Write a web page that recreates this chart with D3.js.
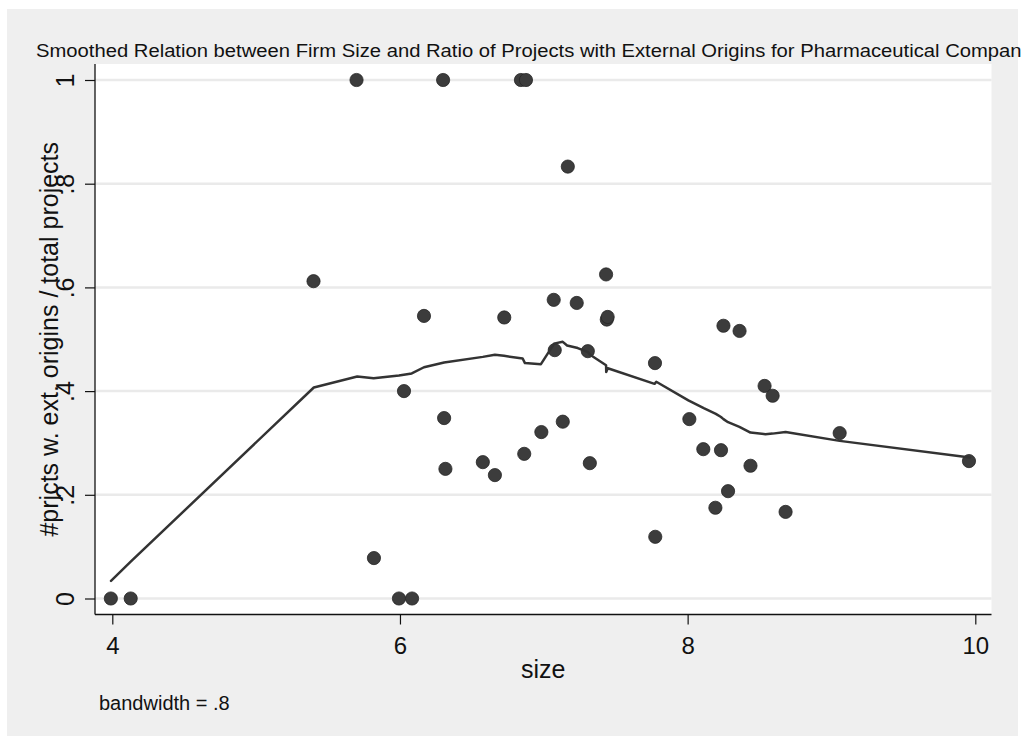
<!DOCTYPE html>
<html>
<head>
<meta charset="utf-8">
<script src="https://cdn.jsdelivr.net/npm/d3@7"></script>
<style>
  html, body { margin: 0; padding: 0; background: #ffffff; }
  svg { display: block; }
  text { font-family: "Liberation Sans", Arial, Helvetica, sans-serif; fill: #111; }
</style>
</head>
<body>
<svg id="chart" width="1022" height="736"></svg>
<script>
// Firm size (log scale) and share of projects with external origins, one entry per firm
const firmSize = [3.99, 4.128, 5.399, 5.698, 5.819, 5.993, 6.084, 6.028, 6.167, 6.300,
  6.307, 6.316, 6.576, 6.660, 6.725, 6.841, 6.876, 6.864, 6.983, 7.069,
  7.076, 7.132, 7.167, 7.229, 7.306, 7.320, 7.433, 7.438, 7.444, 7.773,
  7.775, 8.012, 8.109, 8.193, 8.232, 8.249, 8.281, 8.361, 8.437, 8.535,
  8.591, 8.681, 9.057, 9.956];
const extRatio = [0, 0, 0.612, 1, 0.078, 0, 0, 0.400, 0.545, 1,
  0.348, 0.250, 0.263, 0.238, 0.542, 1, 1, 0.279, 0.321, 0.576,
  0.479, 0.341, 0.833, 0.570, 0.477, 0.261, 0.625, 0.538, 0.543, 0.454,
  0.119, 0.346, 0.288, 0.175, 0.286, 0.526, 0.207, 0.516, 0.256, 0.410,
  0.391, 0.167, 0.319, 0.265];

// Lowess smooth (bandwidth .8), evaluated at the firm sizes
const smoothX = [3.991, 4.128, 5.401, 5.703, 5.817, 5.993, 6.082, 6.167, 6.307, 6.576,
  6.660, 6.723, 6.853, 6.869, 6.980, 7.073, 7.078, 7.132, 7.162, 7.236,
  7.308, 7.322, 7.433, 7.434, 7.445, 7.770, 7.782, 8.005, 8.112, 8.196,
  8.232, 8.249, 8.281, 8.360, 8.437, 8.541, 8.590, 8.681, 9.057, 9.963];
const smoothY = [0.034, 0.071, 0.407, 0.428, 0.425, 0.430, 0.434, 0.446, 0.455, 0.466,
  0.470, 0.468, 0.463, 0.454, 0.452, 0.492, 0.492, 0.495, 0.488, 0.483,
  0.475, 0.470, 0.450, 0.437, 0.444, 0.414, 0.418, 0.382, 0.367, 0.356,
  0.350, 0.346, 0.340, 0.331, 0.320, 0.317, 0.318, 0.321, 0.304, 0.272];

const xTicks = [4, 6, 8, 10];
const xTickLabels = ["4", "6", "8", "10"];
const yTicks = [0, 0.2, 0.4, 0.6, 0.8, 1];
const yTickLabels = ["0", ".2", ".4", ".6", ".8", "1"];

const titleText = "Smoothed Relation between Firm Size and Ratio of Projects with External Origins for Pharmaceutical Companies";
const xTitle = "size";
const yTitle = "#prjcts w. ext. origins / total projects";
const noteText = "bandwidth = .8";

const svg = d3.select("#chart");

// Graph region and plot region
const plot = { left: 95, right: 991.5, top: 64, bottom: 614.5 };

svg.append("rect")
  .attr("x", 7).attr("y", 9).attr("width", 1011).attr("height", 727)
  .attr("fill", "#efefef");

svg.append("rect")
  .attr("x", plot.left).attr("y", plot.top)
  .attr("width", plot.right - plot.left).attr("height", plot.bottom - plot.top)
  .attr("fill", "#ffffff");

const x = d3.scaleLinear().domain([4, 10]).range([112.3, 975.3]);
const y = d3.scaleLinear().domain([0, 1]).range([598.5, 80]);

// Horizontal grid lines
svg.append("g").selectAll("line")
  .data(yTicks)
  .join("line")
  .attr("x1", plot.left).attr("x2", plot.right)
  .attr("y1", d => y(d)).attr("y2", d => y(d))
  .attr("stroke", "#eaeaea").attr("stroke-width", 2.5);

// Scatter points
svg.append("g").selectAll("circle")
  .data(firmSize.map((s, i) => [s, extRatio[i]]))
  .join("circle")
  .attr("cx", d => x(d[0])).attr("cy", d => y(d[1]))
  .attr("r", 6.6)
  .attr("fill", "#3c3c3c")
  .attr("stroke", "#262626").attr("stroke-width", 0.8);

// Lowess curve
const line = d3.line().x(d => x(d[0])).y(d => y(d[1]));
svg.append("path")
  .datum(smoothX.map((s, i) => [s, smoothY[i]]))
  .attr("d", line)
  .attr("fill", "none")
  .attr("stroke", "#333333").attr("stroke-width", 2.5)
  .attr("stroke-linejoin", "round").attr("stroke-linecap", "round");

// Axes
const xAxis = svg.append("g")
  .attr("transform", `translate(0,${plot.bottom})`)
  .call(d3.axisBottom(x).tickValues(xTicks).tickSize(10).tickPadding(12.8)
    .tickFormat((d, i) => xTickLabels[i]));
xAxis.select(".domain").remove();
xAxis.selectAll("line").attr("stroke", "#111").attr("stroke-width", 1.2);
xAxis.selectAll("text").attr("font-size", 24).attr("fill", "#111")
  .style("font-family", "'Liberation Sans', Arial, Helvetica, sans-serif");

const yAxis = svg.append("g")
  .attr("transform", `translate(${plot.left},0)`)
  .call(d3.axisLeft(y).tickValues(yTicks).tickSize(10)
    .tickFormat((d, i) => yTickLabels[i]));
yAxis.select(".domain").remove();
yAxis.selectAll("line").attr("stroke", "#111").attr("stroke-width", 1.2);
yAxis.selectAll("text")
  .attr("x", null).attr("dy", null)
  .attr("text-anchor", "middle")
  .attr("transform", "translate(-21.5,0) rotate(-90)")
  .attr("font-size", 25).attr("fill", "#111")
  .style("font-family", "'Liberation Sans', Arial, Helvetica, sans-serif");

// Axis lines along the plot region
svg.append("line")
  .attr("x1", plot.left).attr("x2", plot.left)
  .attr("y1", plot.top).attr("y2", plot.bottom)
  .attr("stroke", "#111").attr("stroke-width", 1.3);
svg.append("line")
  .attr("x1", plot.left).attr("x2", plot.right)
  .attr("y1", plot.bottom).attr("y2", plot.bottom)
  .attr("stroke", "#111").attr("stroke-width", 1.3);

// Heading, squeezed horizontally so "Compar…" reaches the right edge
const titleSize = 18.5;
const title = svg.append("text")
  .attr("x", 0).attr("y", 0)
  .attr("font-size", titleSize)
  .text(titleText);
const probe = svg.append("text").attr("font-size", titleSize)
  .text(titleText.slice(0, titleText.indexOf("Companies") + 6));
const probeW = probe.node().getComputedTextLength();
probe.remove();
const sx = 986 / probeW;
title.attr("transform", `translate(36,56.5) scale(${sx},1)`);

svg.append("text")
  .attr("x", (plot.left + plot.right) / 2).attr("y", 678)
  .attr("text-anchor", "middle").attr("font-size", 25)
  .text(xTitle);

svg.append("text")
  .attr("transform", `translate(58,${(plot.top + plot.bottom) / 2}) rotate(-90)`)
  .attr("text-anchor", "middle").attr("font-size", 25)
  .text(yTitle);

svg.append("text")
  .attr("x", 99).attr("y", 710)
  .attr("font-size", 20)
  .text(noteText);
</script>
</body>
</html>
